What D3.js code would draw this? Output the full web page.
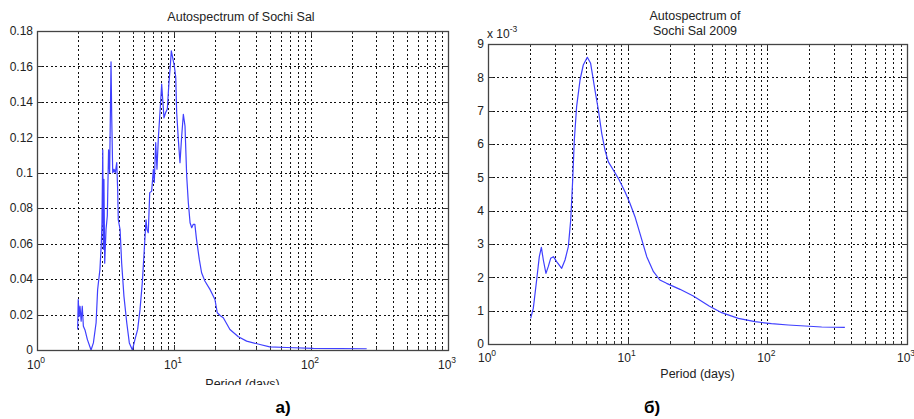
<!DOCTYPE html>
<html><head><meta charset="utf-8">
<script src="https://cdn.jsdelivr.net/npm/d3@7"></script>
<style>body{margin:0;background:#fff}svg{display:block}text{font-family:"Liberation Sans",Arial,sans-serif}</style>
</head><body>
<svg id="c" width="914" height="419"></svg>
<script>
// ---- data (period in days, autospectrum value) ----
const periodA = [1.98,2.0,2.03,2.06,2.10,2.14,2.18,2.24,2.33,2.48,2.58,2.70,2.77,2.88,2.95,2.98,3.02,3.05,3.08,3.12,3.19,3.26,3.33,3.39,3.47,3.51,3.57,3.65,3.73,3.82,3.88,3.92,4.04,4.15,4.31,4.52,4.72,4.97,5.19,5.43,5.65,5.87,6.07,6.25,6.35,6.49,6.65,6.87,7.07,7.18,7.35,7.51,7.68,7.87,8.13,8.27,8.45,8.69,8.94,9.19,9.40,9.56,9.78,10.05,10.3,10.46,10.75,11.06,11.38,11.7,12.03,12.38,12.72,13.1,13.47,13.83,14.2,14.6,15.3,15.9,16.8,18.3,19.9,20.7,21.7,22.9,25.6,29.5,33.9,42.4,50,66.5,104,255];
const valueA = [0.0116,0.0285,0.019,0.0247,0.0163,0.0247,0.0134,0.0113,0.006,0.0,0.004,0.0154,0.034,0.0455,0.0607,0.072,0.113,0.0568,0.0963,0.049,0.068,0.0756,0.113,0.100,0.1626,0.132,0.100,0.102,0.100,0.1057,0.0905,0.0735,0.068,0.049,0.0304,0.0154,0.004,0.0,0.006,0.0116,0.0229,0.038,0.0568,0.0735,0.068,0.0662,0.0888,0.0896,0.102,0.0945,0.117,0.102,0.119,0.132,0.150,0.1415,0.131,0.134,0.136,0.151,0.1603,0.1688,0.165,0.1603,0.1538,0.134,0.119,0.1057,0.1208,0.133,0.1264,0.098,0.0832,0.0718,0.069,0.0709,0.0709,0.0624,0.0511,0.0436,0.0389,0.0342,0.0285,0.021,0.0195,0.0182,0.0116,0.0075,0.005,0.0031,0.0018,0.0014,0.0009,0.0007];

const periodB = [2.02,2.11,2.23,2.33,2.41,2.49,2.60,2.70,2.81,2.94,3.10,3.37,3.56,3.76,3.91,4.04,4.15,4.31,4.56,4.81,5.14,5.43,5.83,6.17,6.52,6.88,7.26,7.89,8.57,9.57,10.38,11.28,12.24,13.7,15.3,17.0,19.0,23.7,29.5,38.3,47.1,62,81.5,107,141,186,245,359];
const valueB = [0.77,1.07,1.92,2.62,2.9,2.52,2.12,2.32,2.57,2.62,2.47,2.27,2.52,2.92,3.72,4.92,6.12,7.12,7.92,8.37,8.6,8.42,7.62,7.02,6.32,5.82,5.47,5.22,4.97,4.57,4.22,3.82,3.32,2.62,2.17,1.92,1.82,1.64,1.44,1.14,0.94,0.77,0.67,0.61,0.57,0.54,0.51,0.50].map(v => v * 1e-3);

const yTicksA = [0,0.02,0.04,0.06,0.08,0.1,0.12,0.14,0.16,0.18];
const yTickLabelsA = ["0","0.02","0.04","0.06","0.08","0.1","0.12","0.14","0.16","0.18"];
const yTicksB = [0,1,2,3,4,5,6,7,8,9].map(v => v * 1e-3);
const yTickLabelsB = ["0","1","2","3","4","5","6","7","8","9"];
const xMajor = [1,10,100,1000];
const xExp = ["0","1","2","3"];
const titleA = ["Autospectrum of Sochi Sal"];
const titleB = ["Autospectrum of","Sochi Sal 2009"];
const xLabel = "Period (days)";
const panelLabels = ["а)","б)"];

const svg = d3.select("#c");
const xMinor = [];
for (let d of [1,10,100]) for (let k = 2; k <= 9; k++) xMinor.push(d * k);

function panel(cfg) {
  const x = d3.scaleLog().domain([1,1000]).range([cfg.x0, cfg.x1]);
  const y = d3.scaleLinear().domain([0, cfg.ymax]).range([cfg.y1, cfg.y0]);
  const g = svg.append("g");
  if (cfg.clip) {
    svg.append("clipPath").attr("id", cfg.clip.id).append("rect")
      .attr("x", 0).attr("y", 0).attr("width", 914).attr("height", cfg.clip.h);
    g.attr("clip-path", `url(#${cfg.clip.id})`);
  }
  const grid = g.append("g").attr("stroke", "#111").attr("stroke-width", 1).attr("stroke-dasharray", "2,2.5").attr("shape-rendering","crispEdges");
  grid.selectAll("line.v").data(xMinor.concat([10,100])).join("line")
    .attr("x1", d => Math.round(x(d)) + 0.5).attr("x2", d => Math.round(x(d)) + 0.5)
    .attr("y1", cfg.y0).attr("y2", cfg.y1);
  grid.selectAll("line.h").data(cfg.yTicks.slice(1, -1)).join("line")
    .attr("y1", d => Math.round(y(d)) + 0.5).attr("y2", d => Math.round(y(d)) + 0.5)
    .attr("x1", cfg.x0).attr("x2", cfg.x1);

  // ticks (inward, all four sides)
  const tk = g.append("g").attr("stroke", "#333").attr("stroke-width", 1).attr("shape-rendering","crispEdges");
  const xt = xMinor.map(d => ({v: d, l: 3})).concat([10,100].map(d => ({v: d, l: 5})));
  tk.selectAll("line.b").data(xt).join("line")
    .attr("x1", d => Math.round(x(d.v)) + 0.5).attr("x2", d => Math.round(x(d.v)) + 0.5)
    .attr("y1", cfg.y1).attr("y2", d => cfg.y1 - d.l);
  tk.selectAll("line.t").data(xt).join("line")
    .attr("x1", d => Math.round(x(d.v)) + 0.5).attr("x2", d => Math.round(x(d.v)) + 0.5)
    .attr("y1", cfg.y0).attr("y2", d => cfg.y0 + d.l);
  tk.selectAll("line.l").data(cfg.yTicks).join("line")
    .attr("y1", d => Math.round(y(d)) + 0.5).attr("y2", d => Math.round(y(d)) + 0.5)
    .attr("x1", cfg.x0).attr("x2", cfg.x0 + 5);
  tk.selectAll("line.r").data(cfg.yTicks).join("line")
    .attr("y1", d => Math.round(y(d)) + 0.5).attr("y2", d => Math.round(y(d)) + 0.5)
    .attr("x1", cfg.x1).attr("x2", cfg.x1 - 5);

  // curve
  const line = d3.line().x(d => x(d[0])).y(d => y(d[1]));
  g.append("path").datum(cfg.px.map((p, i) => [p, cfg.py[i]]))
    .attr("d", line).attr("fill", "none").attr("stroke", "#3f3fff").attr("stroke-width", 1.2)
    .attr("stroke-linejoin", "round");

  // box
  g.append("rect").attr("x", cfg.x0 + 0.5).attr("y", cfg.y0 + 0.5)
    .attr("width", cfg.x1 - cfg.x0).attr("height", cfg.y1 - cfg.y0)
    .attr("fill", "none").attr("stroke", "#444").attr("stroke-width", 1.3);

  // y labels
  g.selectAll("text.yl").data(cfg.yTicks).join("text")
    .attr("x", cfg.x0 - 4).attr("y", d => y(d)).attr("dy", "0.35em")
    .attr("text-anchor", "end").attr("font-size", 12).attr("fill", "#222")
    .text((d, i) => cfg.yLabels[i]);

  // x labels with superscript
  const xl = g.selectAll("text.xl").data(xMajor).join("text")
    .attr("x", d => x(d) - 1).attr("y", cfg.y1 + cfg.xlOff)
    .attr("text-anchor", "middle").attr("font-size", 12).attr("fill", "#222");
  xl.append("tspan").text("10");
  xl.append("tspan").attr("dy", -6).attr("font-size", 8.5).text((d, i) => xExp[i]);

  // x axis title
  g.append("text").attr("x", (cfg.x0 + cfg.x1) / 2).attr("y", cfg.xtY)
    .attr("text-anchor", "middle").attr("font-size", 12.5).attr("fill", "#222").text(xLabel);

  // title
  cfg.title.forEach((t, i) => {
    g.append("text").attr("x", cfg.titleX).attr("y", cfg.titleY + i * 14.5)
      .attr("text-anchor", "middle").attr("font-size", 12.5).attr("fill", "#222").text(t);
  });
  return {x, y, g};
}

panel({x0: 37, x1: 448, y0: 31, y1: 350, ymax: 0.18, yTicks: yTicksA, yLabels: yTickLabelsA,
  px: periodA, py: valueA, title: titleA, titleX: 241, titleY: 21, xlOff: 19, xtY: 388,
  clip: {id: "clipA", h: 385}});
const pB = panel({x0: 488, x1: 907, y0: 44, y1: 344, ymax: 0.009, yTicks: yTicksB, yLabels: yTickLabelsB,
  px: periodB, py: valueB, title: titleB, titleX: 695, titleY: 20, xlOff: 18, xtY: 378});

// multiplier
const mt = svg.append("text").attr("x", 487).attr("y", 38).attr("font-size", 12).attr("fill", "#222");
mt.append("tspan").text("x 10");
mt.append("tspan").attr("dy", -6).attr("font-size", 8.5).text("-3");

// panel labels
svg.append("text").attr("x", 283).attr("y", 413).attr("text-anchor", "middle")
  .attr("font-size", 17).attr("font-weight", "bold").attr("fill", "#000").text(panelLabels[0]);
svg.append("text").attr("x", 652).attr("y", 413).attr("text-anchor", "middle")
  .attr("font-size", 17).attr("font-weight", "bold").attr("fill", "#000").text(panelLabels[1]);
</script>
</body></html>
